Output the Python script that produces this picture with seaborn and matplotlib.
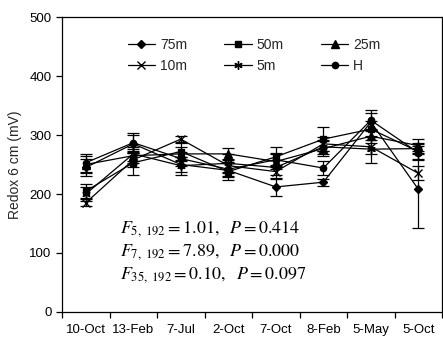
import matplotlib
matplotlib.use("Agg")
import matplotlib.pyplot as plt
import seaborn as sns
import pandas as pd
import numpy as np

# Sampling dates (x categories)
dates = ["10-Oct", "13-Feb", "7-Jul", "2-Oct", "7-Oct", "8-Feb", "5-May", "5-Oct"]

# Mean redox potential at 6 cm depth (mV) for each distance
redox_75m = [245, 285, 250, 240, 212, 220, 322, 208]
redox_50m = [205, 253, 272, 238, 263, 293, 310, 272]
redox_25m = [250, 265, 268, 268, 255, 277, 298, 282]
redox_10m = [185, 258, 293, 248, 238, 285, 280, 235]
redox_5m = [200, 268, 248, 252, 245, 280, 276, 277]
redox_H = [253, 287, 260, 242, 258, 244, 325, 270]

# Standard errors
se_75m = [14, 15, 12, 12, 15, 6, 15, 65]
se_50m = [12, 20, 15, 15, 16, 20, 14, 12]
se_25m = [15, 12, 12, 10, 12, 12, 12, 12]
se_10m = [6, 12, 5, 12, 12, 12, 12, 12]
se_5m = [12, 12, 15, 15, 12, 12, 23, 10]
se_H = [15, 16, 12, 12, 12, 12, 17, 12]

series = ["75m", "50m", "25m", "10m", "5m", "H"]
means = [redox_75m, redox_50m, redox_25m, redox_10m, redox_5m, redox_H]
errors = [se_75m, se_50m, se_25m, se_10m, se_5m, se_H]

stats_lines = [
    r"$F_{5,\ 192} = 1.01,\ \ P = 0.414$",
    r"$F_{7,\ 192} = 7.89,\ \ P = 0.000$",
    r"$F_{35,\ 192} = 0.10,\ \ P = 0.097$",
]

rows = []
for name, vals in zip(series, means):
    for i, v in enumerate(vals):
        rows.append({"pos": i, "redox": v, "site": name})
df = pd.DataFrame(rows)

sns.set_theme(style="ticks")
plt.rcParams["font.family"] = ["Liberation Sans", "DejaVu Sans"]
plt.rcParams["mathtext.fontset"] = "stix"

fig = plt.figure(figsize=(4.43, 3.43), dpi=100)
ax = fig.add_axes([0.14, 0.0904, 0.858, 0.8600])

marker_map = {"75m": "D", "50m": "s", "25m": "^", "10m": "x", "5m": (6, 2, 0), "H": "o"}
size_map = {"75m": 4, "50m": 5, "25m": 5.5, "10m": 6, "5m": 6, "H": 4.5}

for name, vals, err in zip(series, means, errors):
    ax.errorbar(range(len(dates)), vals, yerr=err, fmt="none", ecolor="black",
                elinewidth=0.9, capsize=4, capthick=0.9, zorder=2)

for name in series:
    sub = df[df["site"] == name]
    sns.lineplot(data=sub, x="pos", y="redox", ax=ax, color="black",
                 marker=marker_map[name], markersize=size_map[name],
                 markeredgecolor="black", markerfacecolor="black",
                 markeredgewidth=1.0, linewidth=0.9, label=name, zorder=3)

ax.set_xlim(-0.5, len(dates) - 0.5)
ax.set_ylim(0, 500)
ax.set_yticks([0, 100, 200, 300, 400, 500])
ax.set_xticks(range(len(dates)))
ax.set_xticklabels(dates)
ax.set_xticks(np.arange(-0.5, len(dates), 1.0), minor=True)
ax.tick_params(axis="x", which="major", length=0, labelsize=9.5, pad=9, colors="black")
ax.tick_params(axis="x", which="minor", length=4, width=0.9, direction="out", color="black")
ax.tick_params(axis="y", which="major", length=4, width=0.9, labelsize=9.5, colors="black")
ax.set_xlabel("")
ax.set_ylabel("Redox 6 cm (mV)", fontsize=10, labelpad=5)
for sp in ax.spines.values():
    sp.set_color("black")
    sp.set_linewidth(0.9)

# Legend: 3 columns, filled row-wise
handles, labels = ax.get_legend_handles_labels()
hmap = dict(zip(labels, handles))
order = ["75m", "10m", "50m", "5m", "25m", "H"]
leg = ax.legend([hmap[k] for k in order], order, ncol=3, frameon=False,
                loc="upper left", bbox_to_anchor=(0.173, 0.928), fontsize=10,
                handlelength=1.95, columnspacing=2.7, handletextpad=0.36,
                labelspacing=0.45, borderpad=0, borderaxespad=0)

for k, line in enumerate(stats_lines):
    ax.text(0.152, 0.267 - k * 0.078, line, transform=ax.transAxes,
            fontsize=13, color="black", va="baseline")

fig.savefig("out.png", dpi=100)
